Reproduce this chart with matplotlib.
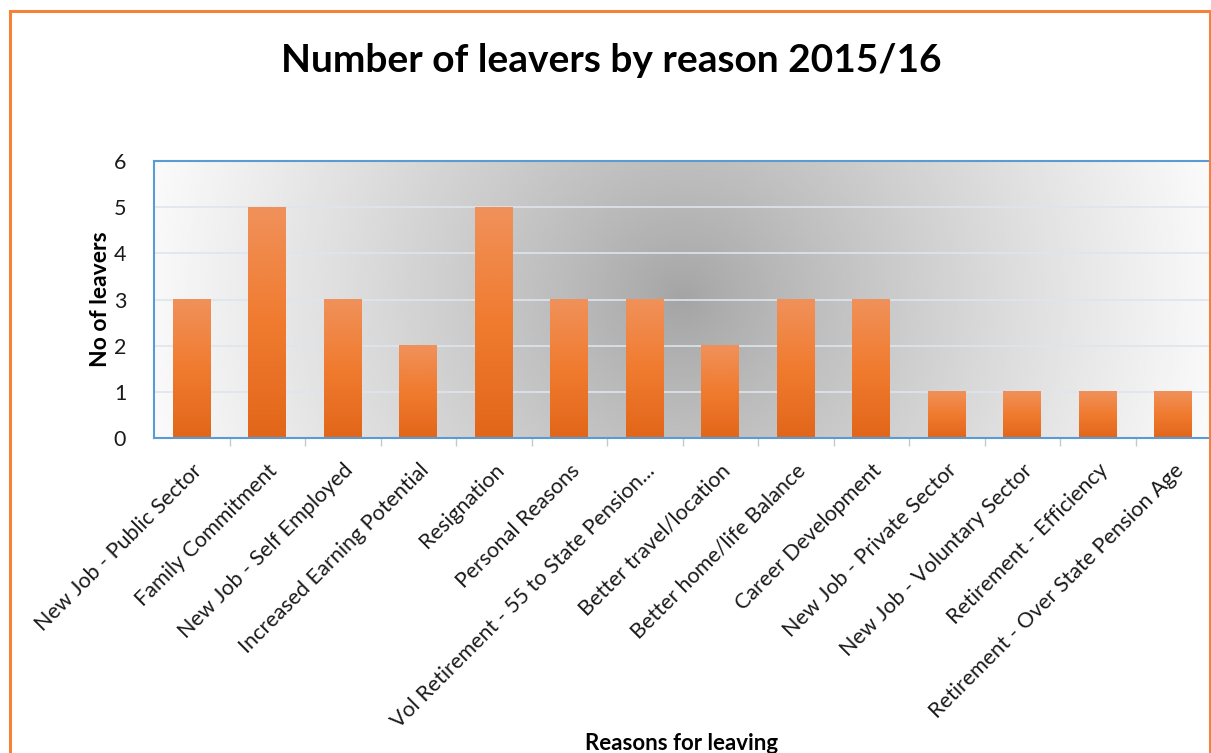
import numpy as np
import matplotlib.pyplot as plt
from matplotlib.patches import Rectangle
from matplotlib.colors import LinearSegmentedColormap

reasons = [
    "New Job - Public Sector", "Family Commitment", "New Job - Self Employed",
    "Increased Earning Potential", "Resignation", "Personal Reasons",
    "Vol Retirement - 55 to State Pension...", "Better travel/location",
    "Better home/life Balance", "Career Development", "New Job - Private Sector",
    "New Job - Voluntary Sector", "Retirement - Efficiency",
    "Retirement - Over State Pension Age",
]
leavers = [3, 5, 3, 2, 5, 3, 3, 2, 3, 3, 1, 1, 1, 1]
y_ticks = [0, 1, 2, 3, 4, 5, 6]

plt.rcParams['font.family'] = ['Lato', 'DejaVu Sans']

fig = plt.figure(figsize=(12.11, 7.53), dpi=100)
ax = fig.add_axes([154 / 1211, 315 / 753, 1057 / 1211, 277 / 753])

n = len(reasons)
x = np.arange(n)

# radial grey background
gx, gy = np.meshgrid(np.linspace(0, 1057, 400), np.linspace(0, 277, 120))
r = np.hypot(gx - 528, gy - 138)
shade = 0.64 + 0.34 * np.clip(r / 540, 0, 1) ** 0.85
ax.imshow(shade, extent=[0, 1, 0, 1], transform=ax.transAxes, cmap='gray',
          vmin=0, vmax=1, aspect='auto', zorder=0, interpolation='bilinear')

ax.set_yticks(y_ticks)
ax.grid(axis='y', color='#dfe5ec', linewidth=1.2, zorder=1)
ax.set_axisbelow(True)

# bars with vertical orange gradient
bar_cmap = LinearSegmentedColormap.from_list('bar', ['#e2661a', '#f07b2f', '#f0915a'])
grad = np.linspace(0, 1, 100).reshape(-1, 1)
w = 0.5
for xi, v in zip(x, leavers):
    ax.imshow(grad, extent=[xi - w / 2, xi + w / 2, 0, v], origin='lower',
              cmap=bar_cmap, aspect='auto', zorder=2)
ax.set_xlim(-0.5, n - 0.5)
ax.set_ylim(0, 6)

for side in ['left', 'top', 'bottom']:
    ax.spines[side].set_color('#5b9bd5')
    ax.spines[side].set_linewidth(1.5)
ax.spines['right'].set_visible(False)

ax.set_xticks(x)
ax.set_xticklabels(reasons, rotation=45, ha='right', rotation_mode='anchor',
                   fontsize=15.5, color='#1a1a1a')
ax.tick_params(axis='x', which='major', length=0, pad=16)
ax.set_xticks(np.arange(n) + 0.5, minor=True)
ax.tick_params(axis='x', which='minor', length=6, color='#c8c8c8', width=1)
ax.tick_params(axis='y', length=0, pad=20, labelsize=15.5, labelcolor='#1a1a1a')

ax.set_ylabel("No of leavers", fontsize=16.5, fontweight='bold', labelpad=2)
fig.text(682 / 1211, 1 - 743 / 753, "Reasons for leaving", fontsize=16,
         fontweight='bold', ha='center', va='center')
fig.text(611 / 1211, 1 - 61 / 753, "Number of leavers by reason 2015/16",
         fontsize=28, fontweight='bold', ha='center', va='center')

# orange outer border
fig.patches.append(Rectangle((10 / 1211, -0.05), 1200 / 1211, 1.05 - 11 / 753,
                             transform=fig.transFigure, fill=False,
                             edgecolor='#f5823a', linewidth=2.2))

fig.savefig('out.png', dpi=100)
